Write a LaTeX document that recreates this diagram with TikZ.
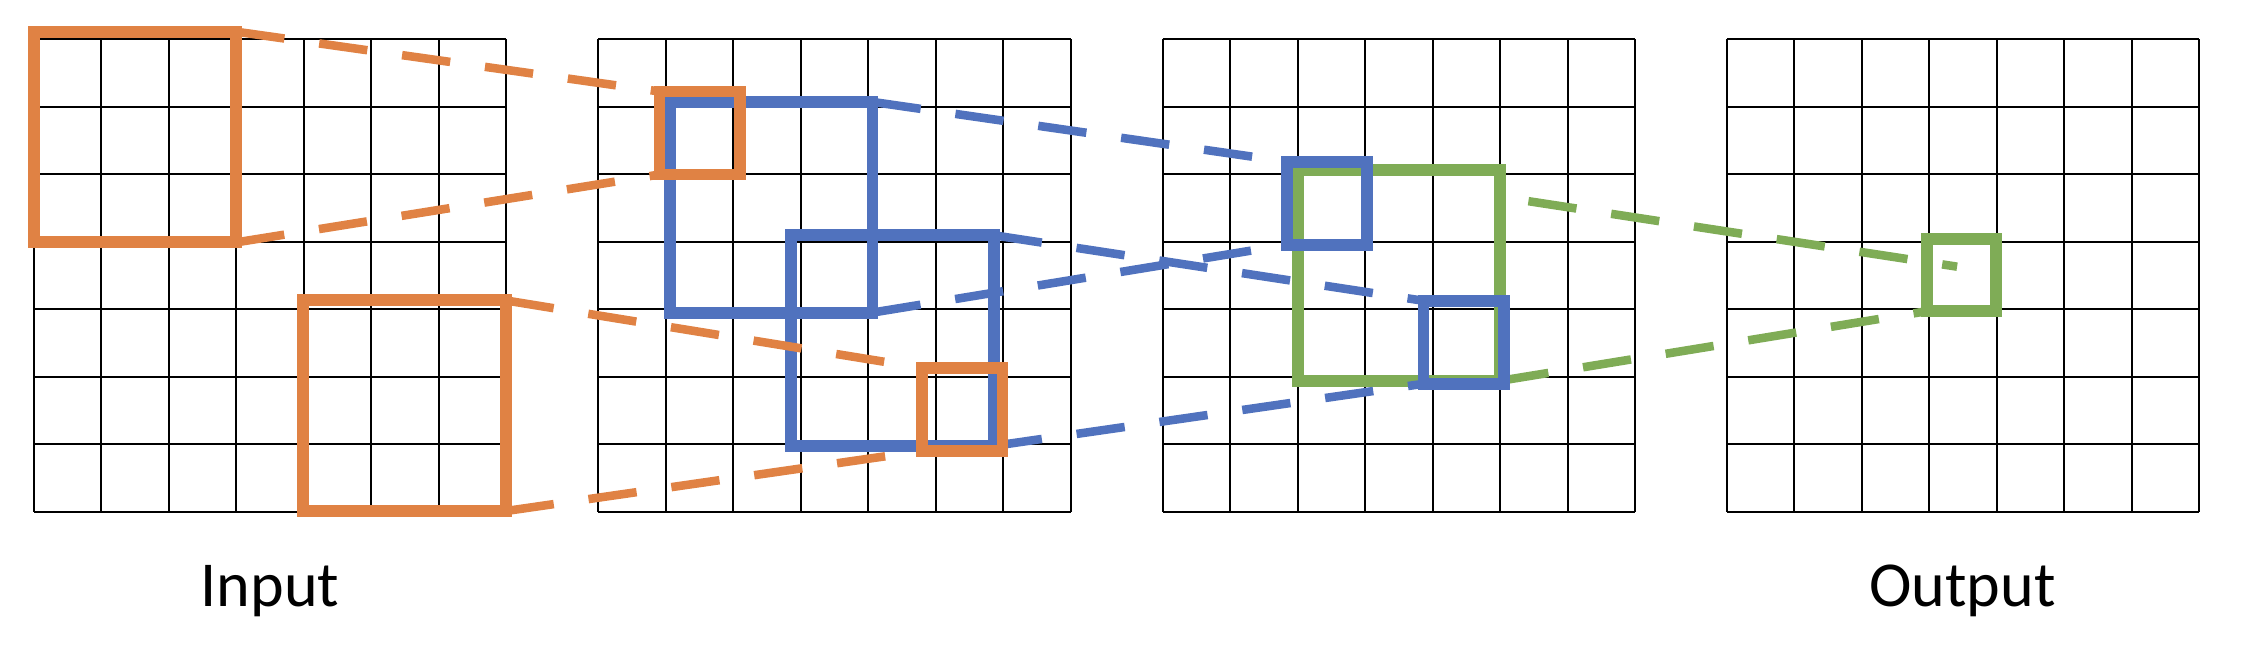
\documentclass[tikz,border=0pt]{standalone}
\usepackage{fontspec}
\setmainfont{Carlito}
\definecolor{mOrange}{HTML}{E08244}
\definecolor{mBlue}{HTML}{5072BE}
\definecolor{mGreen}{HTML}{7FAC56}
\tikzset{
  gridline/.style={black, line width=0.85pt},
  bigsq/.style={draw, rectangle, line width=5pt, minimum width=3cm,
                minimum height=3.12cm, inner sep=0pt, outer sep=0pt},
  smallsq/.style={draw, rectangle, line width=5pt, minimum width=1.19cm,
                  minimum height=1.23cm, inner sep=0pt, outer sep=0pt},
  link/.style={line width=3.6pt, dash pattern=on 0.72cm off 0.52cm},
  lbl/.style={font=\fontsize{27}{32}\selectfont, anchor=base},
}
\begin{document}
\begin{tikzpicture}
    \useasboundingbox (-0.5,-2.02) rectangle (32.74,7.58);
    % the four 7x7 maps
    \foreach \g in {0,...,3}
      \draw[gridline, xshift=\g*8.36cm] (0,0) grid (7,7);
    % green window
    \node[bigsq, mGreen] (gA) at (20.225,3.5) {};
    \node[smallsq, mGreen, minimum width=1.02cm, minimum height=1.07cm] (ga) at (28.55,3.505) {};
    \coordinate (gTop1) at (22.14,4.60);
    \coordinate (gTop2) at (28.49,3.63);
    \draw[link, mGreen] (gTop1) -- (gTop2);
    \draw[link, mGreen] (gA.south east) -- (ga.south west);
    % blue windows
    \node[bigsq, mBlue] (bA) at (10.925,4.51) {};
    \node[bigsq, mBlue] (bB) at (12.72,2.535) {};
    \node[smallsq, mBlue] (ba) at (19.16,4.57) {};
    \node[smallsq, mBlue] (bb) at (21.18,2.51) {};
    \draw[link, mBlue] (bA.north east) -- (ba.north west);
    \draw[link, mBlue] (bA.south east) -- (ba.south west);
    \draw[link, mBlue] (bB.north east) -- (bb.north west);
    \draw[link, mBlue] (bB.south east) -- (bb.south west);
    % orange windows
    \node[bigsq, mOrange] (oA) at (1.5,5.55) {};
    \node[bigsq, mOrange] (oB) at (5.49,1.57) {};
    \node[smallsq, mOrange] (oa) at (9.865,5.61) {};
    \node[smallsq, mOrange] (ob) at (13.755,1.515) {};
    \draw[link, mOrange] (oA.north east) -- (oa.north west);
    \draw[link, mOrange] (oA.south east) -- (oa.south west);
    \draw[link, mOrange] (oB.north east) -- (ob.north west);
    \draw[link, mOrange] (oB.south east) -- (ob.south west);
    % labels
    \node[lbl] (inLbl) at (3.5,-1.40) {Input};
    \node[lbl] (outLbl) at (28.57,-1.40) {Output};
\end{tikzpicture}
\end{document}
